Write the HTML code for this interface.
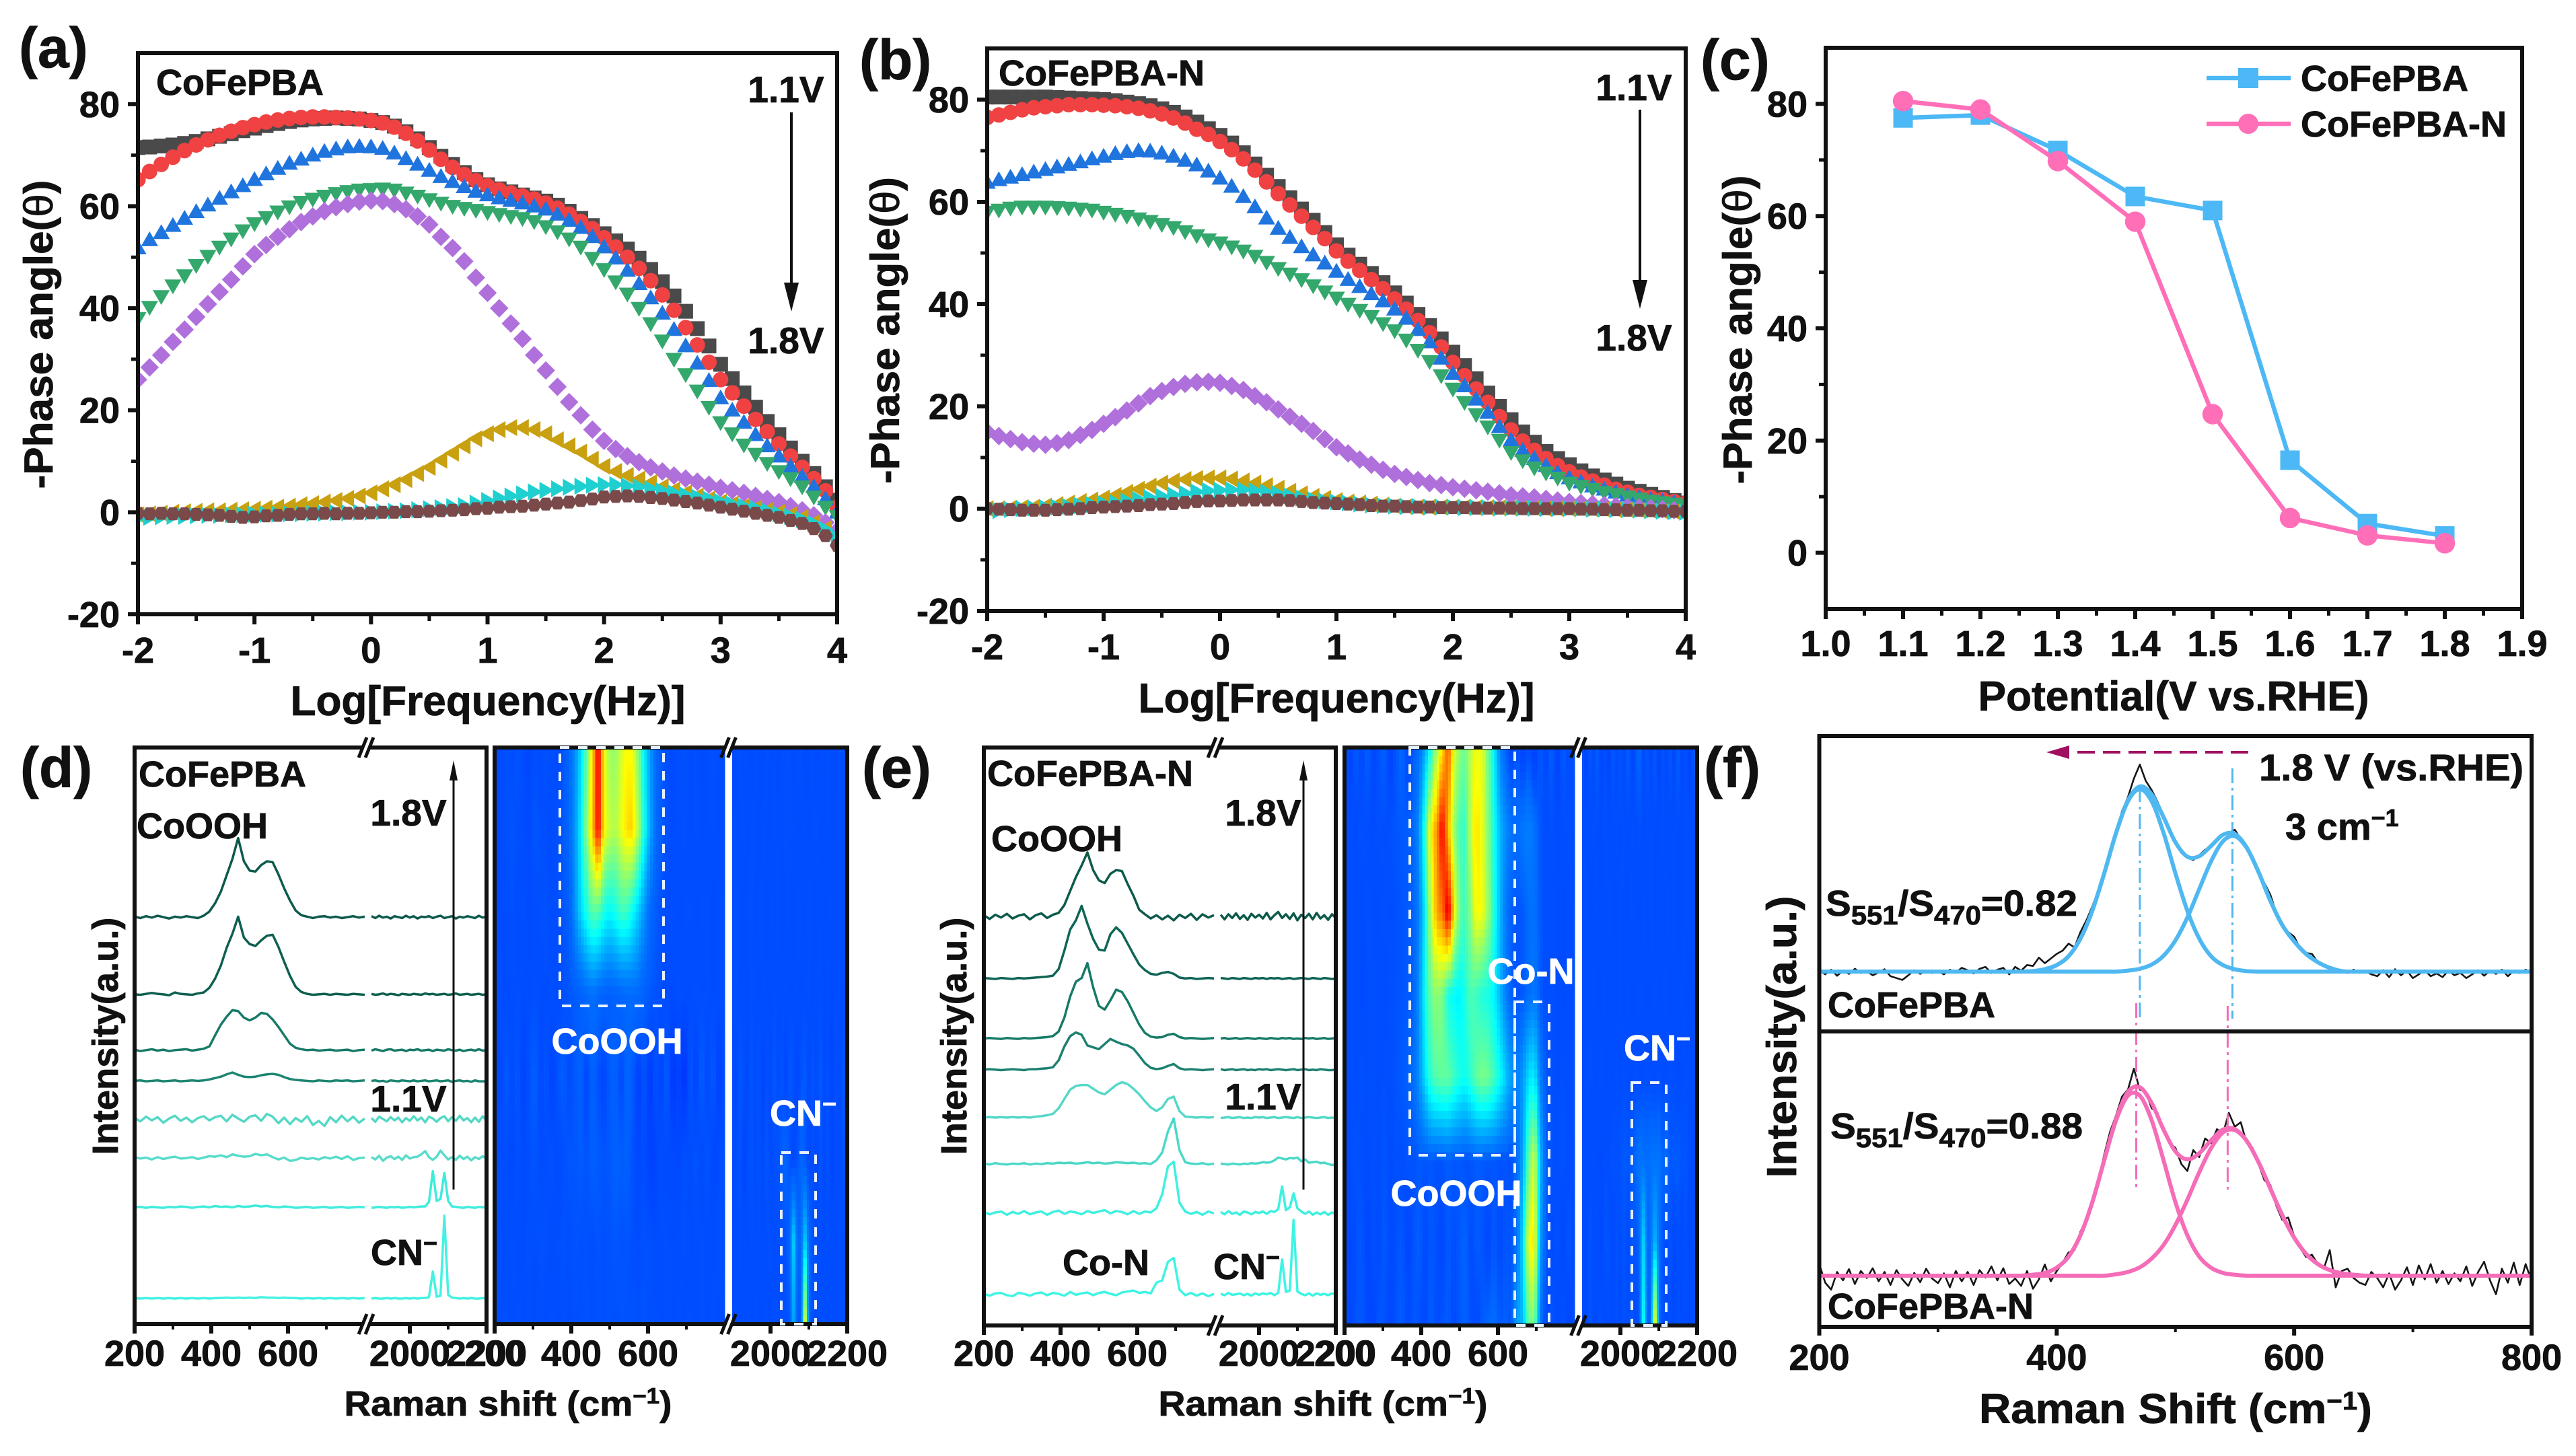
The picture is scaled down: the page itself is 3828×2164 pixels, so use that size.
<!DOCTYPE html>
<html lang="en">
<head>
<meta charset="utf-8">
<title>Phase angle and Raman spectra of CoFePBA and CoFePBA-N</title>
<style>
html,body{margin:0;padding:0;background:#fff;}
svg{display:block;}
text{font-family:"Liberation Sans",sans-serif;font-weight:bold;fill:#111;stroke:#111;stroke-width:0.8px;}
</style>
</head>
<body>
<svg id="figure" xmlns="http://www.w3.org/2000/svg" width="3828" height="2164" viewBox="0 0 3828 2164">
<rect width="3828" height="2164" fill="#fff"/>
<defs>
<clipPath id="clipA"><rect x="205" y="79" width="1039" height="834"/></clipPath>
<clipPath id="clipB"><rect x="1467" y="72" width="1038" height="836"/></clipPath>
<clipPath id="clipHD"><rect x="735" y="1111" width="524" height="857"/></clipPath>
<clipPath id="clipHE"><rect x="1998" y="1111" width="524" height="859"/></clipPath>
<clipPath id="clipFT"><rect x="2703" y="1094" width="1060" height="439"/></clipPath>
<clipPath id="clipFB"><rect x="2703" y="1533" width="1060" height="439"/></clipPath>
</defs>
<g id="layerA"></g>
<g id="layerB"></g>
<g id="layerC"></g>
<g id="layerD"></g>
<g id="layerE"></g>
<g id="layerF"></g>

<!-- panel letters -->
<text x="28" y="100" font-size="84">(a)</text>
<text x="1277" y="118" font-size="84">(b)</text>
<text x="2527" y="118" font-size="84">(c)</text>
<text x="30" y="1170" font-size="84">(d)</text>
<text x="1281" y="1170" font-size="84">(e)</text>
<text x="2532" y="1170" font-size="84">(f)</text>

<!-- panel a text -->
<text x="232" y="141" font-size="54">CoFePBA</text>
<text x="1168" y="152" font-size="55" text-anchor="middle">1.1V</text>
<text x="1168" y="525" font-size="55" text-anchor="middle">1.8V</text>
<line x1="1176" y1="167" x2="1176" y2="430" stroke="#111" stroke-width="4"/>
<polygon points="1165,420 1187,420 1176,463" fill="#111"/>
<text x="725" y="1063" font-size="62" text-anchor="middle" textLength="587" lengthAdjust="spacingAndGlyphs">Log[Frequency(Hz)]</text>
<text transform="translate(78,497) rotate(-90)" font-size="60" text-anchor="middle" textLength="459" lengthAdjust="spacingAndGlyphs">-Phase angle(<tspan font-weight="normal">θ</tspan>)</text>

<!-- panel b text -->
<text x="1484" y="127" font-size="54">CoFePBA-N</text>
<text x="2428" y="149" font-size="55" text-anchor="middle">1.1V</text>
<text x="2428" y="521" font-size="55" text-anchor="middle">1.8V</text>
<line x1="2437" y1="163" x2="2437" y2="425" stroke="#111" stroke-width="4"/>
<polygon points="2426,416 2448,416 2437,459" fill="#111"/>
<text x="1986" y="1059" font-size="62" text-anchor="middle" textLength="589" lengthAdjust="spacingAndGlyphs">Log[Frequency(Hz)]</text>
<text transform="translate(1336,491) rotate(-90)" font-size="60" text-anchor="middle" textLength="456" lengthAdjust="spacingAndGlyphs">-Phase angle(<tspan font-weight="normal">θ</tspan>)</text>

<!-- panel c text -->
<g>
<line x1="3279" y1="116" x2="3404" y2="116" stroke="#4cb8f5" stroke-width="6.5"/>
<rect x="3326" y="101" width="30" height="30" fill="#4cb8f5"/>
<text x="3419" y="135" font-size="54">CoFePBA</text>
</g>
<g>
<line x1="3279" y1="184" x2="3404" y2="184" stroke="#ff6fb8" stroke-width="6.5"/>
<circle cx="3341" cy="184" r="15" fill="#ff6fb8"/>
<text x="3419" y="203" font-size="54">CoFePBA-N</text>
</g>
<text x="3230" y="1056" font-size="62" text-anchor="middle" textLength="581" lengthAdjust="spacingAndGlyphs">Potential(V vs.RHE)</text>
<text transform="translate(2603,490) rotate(-90)" font-size="60" text-anchor="middle" textLength="459" lengthAdjust="spacingAndGlyphs">-Phase angle(<tspan font-weight="normal">θ</tspan>)</text>

<!-- panel d text -->
<text x="206" y="1169" font-size="54">CoFePBA</text>
<text x="203" y="1246" font-size="54">CoOOH</text>
<text x="607" y="1227" font-size="55" text-anchor="middle">1.8V</text>
<text x="607" y="1652" font-size="55" text-anchor="middle">1.1V</text>
<text x="551" y="1880" font-size="54">CN<tspan dy="-20" font-size="36">−</tspan></text>
<line x1="674" y1="1768" x2="674" y2="1150" stroke="#111" stroke-width="3"/>
<polygon points="668,1160 680,1160 674,1130" fill="#111"/>
<text x="917" y="1566" font-size="54" text-anchor="middle" style="fill:#fff;stroke:#fff">CoOOH</text>
<text x="1144" y="1673" font-size="54" style="fill:#fff;stroke:#fff">CN<tspan dy="-20" font-size="36">−</tspan></text>
<text x="755" y="2104" font-size="52" text-anchor="middle" textLength="487" lengthAdjust="spacingAndGlyphs">Raman shift (cm<tspan dy="-18" font-size="33">−1</tspan><tspan dy="18">)</tspan></text>
<text transform="translate(175,1540) rotate(-90)" font-size="54" text-anchor="middle" textLength="353" lengthAdjust="spacingAndGlyphs">Intensity(a.u.)</text>

<!-- panel e text -->
<text x="1467" y="1168" font-size="54">CoFePBA-N</text>
<text x="1473" y="1265" font-size="54">CoOOH</text>
<text x="1877" y="1227" font-size="55" text-anchor="middle">1.8V</text>
<text x="1877" y="1649" font-size="55" text-anchor="middle">1.1V</text>
<text x="1579" y="1895" font-size="54">Co-N</text>
<text x="1803" y="1901" font-size="54">CN<tspan dy="-20" font-size="36">−</tspan></text>
<line x1="1937" y1="1768" x2="1937" y2="1150" stroke="#111" stroke-width="3"/>
<polygon points="1931,1160 1943,1160 1937,1130" fill="#111"/>
<text x="2164" y="1792" font-size="54" text-anchor="middle" style="fill:#fff;stroke:#fff">CoOOH</text>
<text x="2275" y="1462" font-size="54" text-anchor="middle" style="fill:#fff;stroke:#fff">Co-N</text>
<text x="2413" y="1576" font-size="54" style="fill:#fff;stroke:#fff">CN<tspan dy="-20" font-size="36">−</tspan></text>
<text x="1966" y="2104" font-size="52" text-anchor="middle" textLength="489" lengthAdjust="spacingAndGlyphs">Raman shift (cm<tspan dy="-18" font-size="33">−1</tspan><tspan dy="18">)</tspan></text>
<text transform="translate(1436,1540) rotate(-90)" font-size="54" text-anchor="middle" textLength="353" lengthAdjust="spacingAndGlyphs">Intensity(a.u.)</text>

<!-- panel f text -->
<text x="3357" y="1160" font-size="56" textLength="393" lengthAdjust="spacingAndGlyphs">1.8 V (vs.RHE)</text>
<text x="3396" y="1248" font-size="56">3 cm<tspan dy="-20" font-size="36">−1</tspan></text>
<text x="2713" y="1361" font-size="54" textLength="374" lengthAdjust="spacingAndGlyphs">S<tspan dy="13" font-size="40">551</tspan><tspan dy="-13">/S</tspan><tspan dy="13" font-size="40">470</tspan><tspan dy="-13">=0.82</tspan></text>
<text x="2720" y="1692" font-size="54" textLength="375" lengthAdjust="spacingAndGlyphs">S<tspan dy="13" font-size="40">551</tspan><tspan dy="-13">/S</tspan><tspan dy="13" font-size="40">470</tspan><tspan dy="-13">=0.88</tspan></text>
<text x="2716" y="1512" font-size="54">CoFePBA</text>
<text x="2716" y="1960" font-size="54">CoFePBA-N</text>
<text x="3233" y="2115" font-size="62" text-anchor="middle" textLength="584" lengthAdjust="spacingAndGlyphs">Raman Shift (cm<tspan dy="-20" font-size="38">−1</tspan><tspan dy="20">)</tspan></text>
<text transform="translate(2669,1541) rotate(-90)" font-size="62" text-anchor="middle" textLength="419" lengthAdjust="spacingAndGlyphs">Intensity(a.u.)</text>
<line x1="3341" y1="1118" x2="3075" y2="1118" stroke="#a01060" stroke-width="4" stroke-dasharray="26 12"/>
<polygon points="3075,1108 3075,1128 3041,1118" fill="#a01060"/>
</svg>

<script>
// ---------- shared categories ----------
const logFreq = [-2,-1.9,-1.8,-1.7,-1.6,-1.5,-1.4,-1.3,-1.2,-1.1,-1,-0.9,-0.8,-0.7,-0.6,-0.5,-0.4,-0.3,-0.2,-0.1,0,0.1,0.2,0.3,0.4,0.5,0.6,0.7,0.8,0.9,1,1.1,1.2,1.3,1.4,1.5,1.6,1.7,1.8,1.9,2,2.1,2.2,2.3,2.4,2.5,2.6,2.7,2.8,2.9,3,3.1,3.2,3.3,3.4,3.5,3.6,3.7,3.8,3.9,4];
const phaseYTicks = [-20,0,20,40,60,80];
const phaseYMinor = [-10,10,30,50,70];
const logXTicks = [-2,-1,0,1,2,3,4];
const logXMinor = [-1.5,-0.5,0.5,1.5,2.5,3.5];

// ---------- panel (a) phase angle ----------
const phaseA11 = [71.5,71.6,71.8,72,72.3,72.7,73.2,73.7,74.2,74.8,75.3,75.8,76.2,76.6,76.9,77.1,77.2,77.3,77.2,77.1,76.8,76.4,75.7,74.6,73.2,71.5,69.8,68.2,66.6,65.2,64.2,63.4,62.8,62.2,61.6,61,60.2,59,57.6,56.2,54.6,53.2,51.6,49.8,47.6,45.2,42.4,39.4,36,32.6,29,26.2,23.4,20.6,17.8,15.2,12.6,10,7.6,5,2.4];
const phaseA12 = [65.2,66.8,68.2,69.6,70.9,72,73,73.9,74.7,75.4,76,76.5,76.9,77.2,77.4,77.5,77.5,77.4,77.3,77.1,76.8,76.3,75.5,74.3,72.8,71,69.2,67.6,66.2,65,64,63.2,62.6,62,61.4,60.6,59.6,58.4,57,55.6,53.8,52,50,47.8,45.4,42.6,39.6,36.2,32.8,29.4,26,23.4,20.8,18.2,15.8,13.4,11,8.8,6.6,4.2,1];
const phaseA13 = [51.8,53.4,54.8,56.2,57.6,58.9,60.2,61.5,62.8,64,65.2,66.3,67.4,68.4,69.2,70,70.7,71.2,71.6,71.7,71.6,71.3,70.4,69.3,68.2,67,65.8,64.8,63.8,62.9,62.2,61.6,61.1,60.6,60,59.4,58.4,57.2,55.8,54,52,49.8,47.4,44.8,42,39,35.8,32.6,29.2,25.8,22.4,20,17.6,15.2,13,11,9,7,5,2.6,0];
const phaseA14 = [38,40.2,42.3,44.4,46.4,48.4,50.2,52,53.6,55.2,56.6,57.8,58.9,59.9,60.8,61.4,62,62.5,62.9,63.2,63.3,63.4,63.2,62.6,62,61.3,60.6,60,59.6,59.2,58.8,58.4,58,57.6,57,56,55,53.6,52,49.8,47.6,45.2,42.8,40,37,33.6,30,27,23.8,20.6,17.6,15.4,13.2,11.4,9.6,8,6.6,5,3,1,-0.8];
const phaseA15 = [26,28.4,30.8,33.4,35.8,38.3,40.8,43.2,45.6,48.2,50.6,52.4,54,55.5,56.9,58,59,59.8,60.4,60.9,61.1,61,60.4,59.4,58,56.4,54,51.8,49.2,46,43,40,37,34,30.8,27.8,24.6,21.6,19,16.2,14,12.4,11,9.8,8.8,8,7.2,6.6,6,5.4,4.8,4.3,3.8,3.2,2.6,2,1.2,0.4,-0.6,-2,-3.6];
const phaseA16 = [-0.5,-0.3,-0.2,0,0.1,0.2,0.3,0.3,0.4,0.5,0.6,0.8,1,1.2,1.5,1.7,2,2.3,2.7,3.2,3.8,4.6,5.4,6.4,7.6,8.8,10.2,11.6,13,14.4,15.4,16.2,16.6,16.6,16.2,15.4,14.2,13,11.8,10.4,9,8,7.2,6.5,5.8,5,4.4,3.8,3.2,2.6,2,1.6,1.2,0.8,0.4,0,-0.5,-1,-2,-3.2,-5];
const phaseA17 = [-1.2,-1,-0.9,-0.8,-0.8,-0.7,-0.6,-0.6,-0.5,-0.5,-0.4,-0.4,-0.4,-0.3,-0.3,-0.2,-0.2,-0.1,-0.1,0,0,0.1,0.2,0.3,0.5,0.7,0.9,1.1,1.3,1.8,2.3,2.8,3.2,3.6,4,4.3,4.6,4.9,5.1,5.3,5.4,5.4,5.2,5,4.6,4.2,3.8,3.4,3,2.6,2.1,1.6,1.2,0.8,0.3,-0.3,-0.8,-1.4,-2.2,-3.4,-5];
const phaseA18 = [-0.2,-0.3,-0.2,-0.3,-0.3,-0.4,-0.5,-0.6,-0.8,-1,-0.9,-0.7,-0.6,-0.4,-0.3,-0.3,-0.2,-0.3,-0.2,-0.2,-0.1,0,0,0.1,0.1,0.2,0.3,0.4,0.5,0.7,0.8,1,1.1,1.2,1.4,1.6,1.8,2,2.3,2.6,3,3.1,3.2,3.1,2.9,2.7,2.4,2.1,1.8,1.4,1,0.6,0.2,-0.2,-0.6,-1,-1.6,-2.2,-3.2,-4.6,-6.5];

// ---------- panel (b) phase angle ----------
const phaseB11 = [80.5,80.5,80.5,80.5,80.5,80.5,80.4,80.3,80.2,80.1,80,79.8,79.5,79.2,78.8,78.2,77.5,76.6,75.6,74.3,73,71.5,69.6,67.4,65.2,63,60.8,58.6,56.4,54,51.6,49.6,47.8,46,44.2,42.2,40.2,38,35.8,33.2,30.6,28,25.4,22.6,20,17.4,15,13,11.2,9.8,8.6,7.4,6.4,5.6,4.8,4,3.4,2.8,2.2,1.6,1.1];
const phaseB12 = [76.5,77,77.5,78,78.4,78.6,78.8,79,79,79,78.9,78.8,78.6,78.3,77.8,77.2,76.4,75.4,74.2,73.2,71.8,70.2,68.4,66.2,63.9,61.6,59.4,57.2,55,52.8,50.4,48.4,46.6,44.8,43,41,39,36.8,34.4,31.6,28.6,26,23.4,20.8,18,15.4,13.2,11.4,9.8,8.4,7.2,6.2,5.4,4.6,3.8,3.2,2.6,2.2,1.8,1.4,1.1];
const phaseB13 = [63.8,64.3,64.8,65.3,65.8,66.3,66.8,67.3,67.8,68.4,68.9,69.4,69.8,70,69.9,69.5,68.9,68.1,67.2,66,64.6,63,61,59,56.8,54.8,53,51.2,49.6,48,46.4,44.8,43.4,42,40.6,39,37.2,35,32.6,29.4,26.4,24,21.4,18.8,16,13.4,11.4,9.8,8.4,7,6,5.2,4.4,3.8,3.2,2.6,2.2,1.8,1.5,1.2,1];
const phaseB14 = [58,58.4,58.8,59,59,59,58.9,58.8,58.6,58.4,58,57.6,57.2,56.7,56.2,55.6,55,54.2,53.4,52.6,52,51.2,50.4,49.4,48.2,47,45.9,44.8,43.6,42.4,41.2,40,38.8,37.6,36.2,34.8,33,31,28.8,26,23.4,20.8,18.4,16,13.4,11,9.4,8,7,6,5,4.4,3.8,3.2,2.8,2.3,1.9,1.5,1.2,0.9,0.6];
const phaseB15 = [15,14.2,13.6,13,12.7,12.5,12.8,13.4,14.4,15.4,16.6,17.9,19.2,20.6,22,23,23.8,24.4,24.7,24.8,24.6,24,23.2,22,20.8,19.4,18,16.6,15.2,13.6,12,10.8,9.6,8.6,7.6,6.8,6.2,5.6,5,4.6,4.2,3.9,3.6,3.3,3,2.6,2.4,2.2,1.9,1.6,1.3,1.1,0.9,0.7,0.5,0.3,0.2,0.1,-0.1,-0.3,-0.5];
const phaseB16 = [0,0,0.1,0.2,0.3,0.5,0.8,1.1,1.4,1.7,2.1,2.6,3.2,3.8,4.4,5,5.4,5.7,5.9,6,6,5.8,5.4,5,4.5,4,3.4,2.9,2.4,2,1.6,1.3,1.1,0.9,0.7,0.5,0.4,0.3,0.3,0.3,0.3,0.3,0.2,0.2,0.2,0.1,0.1,0.1,0,0,0,0,-0.1,-0.1,-0.2,-0.2,-0.3,-0.4,-0.5,-0.6,-0.7];
const phaseB17 = [-0.6,-0.4,-0.2,0,0.1,0.2,0.3,0.4,0.6,0.8,1,1.2,1.5,1.8,2.1,2.4,2.7,3,3.3,3.5,3.6,3.7,3.7,3.5,3.2,2.9,2.5,2.1,1.8,1.5,1.3,1.1,0.9,0.7,0.6,0.5,0.4,0.4,0.3,0.3,0.3,0.2,0.2,0.2,0.1,0.1,0.1,0.1,0,0,0,0,-0.1,-0.1,-0.2,-0.2,-0.3,-0.4,-0.5,-0.6,-0.7];
const phaseB18 = [0,-0.1,-0.2,-0.3,-0.3,-0.3,-0.2,-0.1,0,0.2,0.3,0.4,0.5,0.6,0.8,0.9,1,1.2,1.4,1.5,1.5,1.6,1.7,1.7,1.7,1.7,1.6,1.4,1.2,1.1,1,0.9,0.8,0.6,0.5,0.5,0.4,0.3,0.3,0.2,0.2,0.2,0.1,0.1,0.1,0.1,0,0,0,0,0,-0.1,-0.1,-0.2,-0.2,-0.3,-0.3,-0.4,-0.4,-0.5,-0.5];

// ---------- panel (c) ----------
const potentials = [1.1,1.2,1.3,1.4,1.5,1.6,1.7,1.8];
const peakPhaseCoFePBA = [77.5,78,71.7,63.5,61,16.5,5.2,3.0];
const peakPhaseCoFePBAN = [80.5,79,69.8,59,24.7,6.2,3.1,1.7];
const potentialTicks = [1.0,1.1,1.2,1.3,1.4,1.5,1.6,1.7,1.8,1.9];
const potentialMinor = [1.05,1.15,1.25,1.35,1.45,1.55,1.65,1.75,1.85];
const peakYTicks = [0,20,40,60,80];
const peakYMinor = [10,30,50,70];

// ---------- panels (d), (e) Raman: low band 200-800 step 15, high band 1900-2200 step 10 ----------
const ramanLow = [200,215,230,245,260,275,290,305,320,335,350,365,380,395,410,425,440,455,470,485,500,515,530,545,560,575,590,605,620,635,650,665,680,695,710,725,740,755,770,785,800];
const ramanHigh = [1900,1910,1920,1930,1940,1950,1960,1970,1980,1990,2000,2010,2020,2030,2040,2050,2060,2070,2080,2090,2100,2110,2120,2130,2140,2150,2160,2170,2180,2190,2200];
const ramanTicks = [200,400,600,2000,2200];
const ramanMinor = [300,500,700,2100];
const stackOffsetD = [875,709,589,523,440,357,251,55];
const stackOffsetE = [879,746,617,550,447,347,242,67];

const d18L=[1,-2,2,-1,3,0,-3,1,-1,2,0,-2,3,12,30,55,90,125,170,120,100,98,112,120,118,92,62,36,14,4,1,-2,1,2,-1,1,-2,0,2,-1,1];
const d17L=[0,-1,1,3,1,0,-2,4,1,0,-1,2,4,14,34,62,100,130,167,122,108,104,116,126,128,102,70,40,16,5,1,-1,0,1,-1,1,0,-1,1,0,-1];
const d16L=[1,-2,0,2,-1,1,-2,0,1,2,-1,1,3,8,32,55,72,86,84,70,64,70,80,78,66,50,32,14,5,2,0,1,-1,0,1,-1,0,1,-2,0,1];
const d15L=[0,1,-1,0,1,-1,0,1,-1,0,1,0,1,3,6,9,14,18,13,9,8,9,12,14,15,13,8,4,2,1,0,-1,1,0,-1,1,0,1,-1,0,1];
const d14L=[3,-4,6,-2,5,-7,2,8,-3,4,-6,3,7,-2,5,8,-4,10,2,-5,6,9,-3,12,6,-8,4,-10,3,-5,7,-12,-3,-14,5,-6,8,-4,6,-7,2];
const d13L=[2,-1,1,-3,2,-2,1,3,-1,0,2,-2,1,4,3,6,2,8,5,3,4,9,6,8,2,-3,1,-6,-4,1,-2,0,-3,2,-1,3,-2,4,-4,0,1];
const d12L=[0,1,-1,1,0,-1,1,0,2,1,-1,1,2,0,3,1,2,0,3,1,2,4,2,3,1,0,2,1,-1,0,1,-1,0,1,-1,0,1,-1,0,1,0];
const d11L=[1,0,1,0,1,0,1,0,1,0,1,0,1,0,1,1,2,1,2,1,2,1,3,2,2,1,2,1,1,0,1,0,1,0,1,0,1,0,1,0,1];
const d18H=[2,-2,3,-1,1,-3,2,0,-2,3,-1,2,-3,1,0,2,-2,1,3,-2,0,2,-3,1,-1,2,0,-2,3,-1,1];
const d17H=[1,-1,0,2,-1,1,0,-2,1,0,-1,1,0,-1,2,0,1,-1,0,1,-1,0,2,-1,0,1,-1,0,1,-1,0];
const d16H=[-1,2,0,-2,1,2,-1,0,1,-2,1,0,2,-1,0,1,-2,1,0,-1,2,0,-1,1,-2,0,1,-1,2,-1,0];
const d15H=[0,1,-1,0,-2,1,0,-1,1,0,-1,1,-1,0,1,-1,0,1,-1,0,1,-2,0,1,-1,0,-2,1,-1,-1,-1];
const d14H=[3,-5,6,1,-4,5,-2,4,-6,3,-3,7,-2,4,-6,6,2,-5,3,7,-4,5,-3,8,-2,3,-6,4,-5,7,-3];
const d13H=[2,-3,5,-6,1,4,-2,3,-4,6,-1,2,3,8,15,2,-4,3,16,6,-3,2,-4,5,-2,3,-5,2,-2,4,-1];
const d12H=[-1,0,1,0,-1,1,0,1,-1,0,1,0,1,2,2,12,78,14,18,74,14,2,1,0,-1,1,0,-1,1,0,1];
const d11H=[0,1,0,0,1,0,1,0,0,1,0,1,0,1,1,3,58,4,6,178,8,2,1,0,1,0,1,0,0,1,0];

const e18L=[3,-5,4,-2,6,-4,2,5,-6,3,7,-3,4,8,25,55,85,110,138,100,78,72,92,100,98,70,45,15,5,-4,3,-6,2,-8,4,-3,6,-7,5,-2,3];
const e17L=[1,0,-1,1,0,-1,1,0,1,2,3,4,6,20,60,105,125,156,118,85,62,60,95,110,98,75,52,30,18,10,8,12,14,10,2,0,1,-1,0,1,0];
const e16L=[0,1,0,-1,1,0,-1,1,0,1,2,3,5,15,45,90,122,130,162,110,70,62,82,105,100,80,55,30,12,4,2,3,8,10,3,0,1,0,-1,0,1];
const e15L=[0,1,0,-1,0,1,0,-1,1,1,2,3,5,20,50,72,80,75,52,48,44,55,66,60,55,52,45,30,14,4,1,3,8,12,3,0,1,0,-1,0,1];
const e14L=[0,1,0,1,0,1,0,1,0,2,3,5,8,20,40,60,68,70,70,62,54,50,60,70,76,72,62,50,35,22,14,22,40,45,14,2,1,0,1,0,1];
const e13L=[1,-1,2,0,-1,1,0,2,-1,1,0,2,1,3,2,3,1,2,4,2,3,1,2,4,3,2,3,1,2,0,8,25,70,98,30,4,1,0,2,-1,1];
const e12L=[2,-3,1,3,-4,2,-2,4,-3,1,3,-4,2,5,-2,3,1,-3,4,0,3,6,-1,4,2,-3,4,-2,3,1,10,40,100,110,22,3,-2,2,-4,3,-1];
const e11L=[1,-3,2,3,-2,-4,3,1,-3,2,4,-2,3,1,-3,5,-1,2,4,-2,3,5,1,-2,4,6,8,3,5,2,25,30,70,78,10,-2,3,-3,2,-4,1];
const e18H=[4,-6,5,-3,7,-5,3,-7,6,-2,4,-4,8,-6,3,10,-3,5,-5,7,-8,4,-3,6,-6,8,-4,3,-7,5,-3];
const e17H=[1,0,-1,1,0,-1,1,0,-1,1,0,1,-1,1,0,1,-1,0,1,-1,0,1,0,-1,1,0,-1,1,0,-1,0];
const e16H=[0,1,-1,0,1,-1,0,1,0,-1,1,0,-1,1,0,-1,1,0,1,-1,0,-1,1,0,1,-1,0,1,-1,0,1];
const e15H=[1,-1,0,1,-1,0,1,-1,0,-1,1,0,1,-1,0,1,0,-1,0,1,-1,0,1,-1,0,-1,1,0,-1,-1,0];
const e14H=[-1,0,1,-1,0,1,-1,0,-1,1,0,1,-1,0,1,-1,0,1,0,-1,1,-1,0,1,0,-1,0,1,-1,0,-1];
const e13H=[1,0,-1,1,0,-1,1,0,2,1,2,4,3,4,8,14,12,10,13,12,14,6,10,3,4,5,2,3,0,-2,-1];
const e12H=[2,-3,4,-2,1,-4,3,1,-3,2,0,3,-2,4,2,8,57,6,12,42,10,3,-2,3,-4,1,-3,2,-4,1,-2];
const e11H=[1,-2,3,-1,0,2,-2,1,-3,2,-1,2,0,3,-2,3,75,5,8,160,6,1,-2,2,-3,2,-1,1,-2,2,0];

// ---------- panel (f) ----------
const fitShift = [200,210,220,230,240,250,260,270,280,290,300,310,320,330,340,350,360,370,380,390,400,410,420,430,440,450,460,470,480,490,500,510,520,530,540,550,560,570,580,590,600,610,620,630,640,650,660,670,680,690,700,710,720,730,740,750,760,770,780,790,800];
const fitTop470 = [0,0,0,0,0,0,0,0,0,0,0,0,0,0,0,0,0,0,1,5,14,33,71,131,211,298,366,392,366,298,211,131,71,33,14,5,1,0,0,0,0,0,0,0,0,0,0,0,0,0,0,0,0,0,0,0,0,0,0,0,0];
const fitTop551 = [0,0,0,0,0,0,0,0,0,0,0,0,0,0,0,0,0,0,0,0,0,0,0,0,0,0,2,6,15,34,67,116,177,237,280,291,266,214,152,100,65,38,20,8,1,0,0,0,0,0,0,0,0,0,0,0,0,0,0,0,0];
const fitBottom470 = [0,0,0,0,0,0,0,0,0,0,0,0,0,0,0,0,0,0,2,6,17,41,87,158,248,334,387,387,334,248,158,87,41,17,6,2,0,0,0,0,0,0,0,0,0,0,0,0,0,0,0,0,0,0,0,0,0,0,0,0,0];
const fitBottom551 = [0,0,0,0,0,0,0,0,0,0,0,0,0,0,0,0,0,0,0,0,0,0,0,0,0,3,8,18,37,66,109,163,222,274,308,313,290,244,187,130,82,47,25,12,5,2,0,0,0,0,0,0,0,0,0,0,0,0,0,0,0];
const rawShift = [200,205,210,215,220,225,230,235,240,245,250,255,260,265,270,275,280,285,290,295,300,305,310,315,320,325,330,335,340,345,350,355,360,365,370,375,380,385,390,395,400,405,410,415,420,425,430,435,440,445,450,455,460,465,470,475,480,485,490,495,500,505,510,515,520,525,530,535,540,545,550,555,560,565,570,575,580,585,590,595,600,605,610,615,620,625,630,635,640,645,650,655,660,665,670,675,680,685,690,695,700,705,710,715,720,725,730,735,740,745,750,755,760,765,770,775,780,785,790,795,800];
const rawTop = [3,-6,4,-9,2,-5,6,-3,1,-8,-2,5,-10,-14,-18,-8,3,-5,2,-3,1,-6,4,-2,8,3,-4,6,10,-3,4,8,-6,10,2,14,12,30,18,28,38,45,60,52,85,110,140,175,215,260,300,345,375,415,445,410,390,365,335,300,280,255,245,240,250,262,268,285,295,298,305,285,265,240,215,190,165,125,100,85,75,50,40,38,20,15,8,5,2,-3,4,-2,1,-6,-10,3,-12,5,-8,2,-14,-6,3,-10,-4,-12,2,-8,-3,-14,-6,3,-9,2,-5,4,-10,2,-3,4,-2];
const rawBottom = [25,-15,-30,8,-10,14,-18,10,-5,16,-12,8,-20,12,-8,-22,6,-14,15,-6,-16,5,-25,10,-12,8,-20,12,-4,20,-10,16,-18,-6,-22,10,-28,-8,24,-12,10,28,50,55,95,120,165,205,260,310,345,385,400,445,400,395,360,350,310,285,275,240,225,270,255,295,285,315,305,350,320,330,285,275,240,205,195,150,120,125,85,60,40,45,25,15,55,-25,10,15,-5,-15,-20,8,-5,-25,5,-30,-10,18,-20,22,-8,25,-15,10,-18,5,-12,20,-22,8,30,-10,-40,15,-15,28,-20,25,-12];
const fitXTicks = [200,400,600,800];
const fitXMinor = [300,500,700];

// ---------- drawing helpers ----------
const NS = 'http://www.w3.org/2000/svg';
function mk(parent, tag, attrs) {
  const el = document.createElementNS(NS, tag);
  for (const k in attrs) el.setAttribute(k, attrs[k]);
  parent.appendChild(el);
  return el;
}
function scale(d0, d1, r0, r1) { return v => r0 + (v - d0) / (d1 - d0) * (r1 - r0); }

function tick(g, x1, y1, x2, y2, w) {
  const t = mk(g, 'line', {x1, y1, x2, y2, stroke: '#111', 'stroke-width': w});
  
  
}
function tickText(g, x, y, str, size, anchor) {
  const t = mk(g, 'text', {x, y, 'font-size': size, 'text-anchor': anchor});
  t.textContent = str;
  
  
}
function frame(g, L, T, R, B) {
  const f = mk(g, 'rect', {x: L, y: T, width: R - L, height: B - T, fill: 'none', stroke: '#111', 'stroke-width': 6});
  
  
}
function xyAxes(g, box, sx, sy, xt, xm, yt, ym, xfmt, baseline) {
  xt.forEach(v => {
    tick(g, sx(v), box.B, sx(v), box.B + 15, 6);
    tickText(g, sx(v), baseline, xfmt(v), 54, 'middle');
  });
  xm.forEach(v => tick(g, sx(v), box.B, sx(v), box.B + 10, 5));
  yt.forEach(v => {
    tick(g, box.L, sy(v), box.L - 15, sy(v), 6);
    tickText(g, box.L - 27, sy(v) + 19, String(v), 54, 'end');
  });
  ym.forEach(v => tick(g, box.L, sy(v), box.L - 10, sy(v), 5));
}
function polyPts(cx, cy, pts, s) { return pts.map(p => (cx + p[0] * s) + ',' + (cy + p[1] * s)).join(' '); }
const hexShape = [[-0.5,-0.87],[0.5,-0.87],[1,0],[0.5,0.87],[-0.5,0.87],[-1,0]];
const shapes = {
  up: [[0,-1.15],[1.15,0.85],[-1.15,0.85]],
  down: [[0,1.15],[1.15,-0.85],[-1.15,-0.85]],
  left: [[-1.15,0],[0.85,-1.15],[0.85,1.15]],
  right: [[1.15,0],[-0.85,-1.15],[-0.85,1.15]],
  diamond: [[0,-1.25],[1.25,0],[0,1.25],[-1.25,0]],
  hex: hexShape
};
function marker(g, kind, cx, cy, s, fill) {
  if (kind === 'square') return mk(g, 'rect', {x: cx - s, y: cy - s, width: 2 * s, height: 2 * s, fill});
  if (kind === 'circle') return mk(g, 'circle', {cx, cy, r: s * 1.05, fill});
  return mk(g, 'polygon', {points: polyPts(cx, cy, shapes[kind], s), fill});
}

const seriesLook = [
  {kind: 'square', fill: '#4a4a4a'}, {kind: 'circle', fill: '#f04242'},
  {kind: 'up', fill: '#1f74de'}, {kind: 'down', fill: '#34a86c'},
  {kind: 'diamond', fill: '#b070dc'}, {kind: 'left', fill: '#c9a00f'},
  {kind: 'right', fill: '#20cfcf'}, {kind: 'hex', fill: '#7a4a4a'}
];

function phasePanel(layer, box, clipId, series) {
  const sx = scale(-2, 4, box.L, box.R);
  const sy = scale(-20, 90, box.B, box.T);
  const plot = mk(layer, 'g', {'clip-path': 'url(#' + clipId + ')'});
  
  
  series.forEach((vals, i) => {
    const sg = mk(plot, 'g', {});
    
    
    vals.forEach((v, j) => {
      const m = marker(sg, seriesLook[i].kind, sx(logFreq[j]), sy(v), 11, seriesLook[i].fill);
      
      
    });
  });
  xyAxes(layer, box, sx, sy, logXTicks, logXMinor, phaseYTicks, phaseYMinor, String, box.B + 72);
  frame(layer, box.L, box.T, box.R, box.B);
}
phasePanel(document.getElementById('layerA'), {L: 205, R: 1244, T: 79, B: 913}, 'clipA',
  [phaseA11, phaseA12, phaseA13, phaseA14, phaseA15, phaseA16, phaseA17, phaseA18]);
phasePanel(document.getElementById('layerB'), {L: 1467, R: 2505, T: 72, B: 908}, 'clipB',
  [phaseB11, phaseB12, phaseB13, phaseB14, phaseB15, phaseB16, phaseB17, phaseB18]);

// panel c
(function () {
  const layer = document.getElementById('layerC');
  const box = {L: 2713, R: 3748, T: 71, B: 905};
  const sx = scale(1.0, 1.9, box.L, box.R);
  const sy = scale(-10, 90, box.B, box.T);
  const lookC = [{kind: 'square', col: '#4cb8f5', vals: peakPhaseCoFePBA}, {kind: 'circle', col: '#ff6fb8', vals: peakPhaseCoFePBAN}];
  lookC.forEach(s => {
    const pl = mk(layer, 'polyline', {points: s.vals.map((v, i) => sx(potentials[i]) + ',' + sy(v)).join(' '), fill: 'none', stroke: s.col, 'stroke-width': 6.5, 'stroke-linejoin': 'round'});
    
    
    s.vals.forEach((v, i) => {
      const m = marker(layer, s.kind, sx(potentials[i]), sy(v), 14.5, s.col);
      
      
    });
  });
  xyAxes(layer, box, sx, sy, potentialTicks, potentialMinor, peakYTicks, peakYMinor, v => v.toFixed(1), 975);
  frame(layer, box.L, box.T, box.R, box.B);
})();

// Raman panels
function jet(t) {
  const c = v => Math.round(255 * Math.max(0, Math.min(1, v)));
  const r = 1.5 - Math.abs(4 * t - 3), g = 1.5 - Math.abs(4 * t - 2), b = 1.5 - Math.abs(4 * t - 1);
  return 'rgb(' + c(r) + ',' + c(g) + ',' + c(b) + ')';
}
function sampleAt(arr, f) {
  const i = Math.min(arr.length - 2, Math.floor(f));
  return arr[i] + (arr[i + 1] - arr[i]) * (f - i);
}
function breakMarks(g, x, y) {
  const w = mk(g, 'rect', {x: x - 5, y: y - 6, width: 10, height: 12, fill: '#fff'});
  
  
  [-5, 5].forEach(d => {
    const l = mk(g, 'line', {x1: x + d - 6, y1: y + 15, x2: x + d + 6, y2: y - 15, stroke: '#111', 'stroke-width': 5});
    
    
  });
}
function ramanAxis(g, L, R, B) {
  const k = 0.57;
  const rx = v => v <= 800 ? L + (v - 200) * k : R - (2200 - v) * k;
  ramanTicks.forEach(v => {
    tick(g, rx(v), B, rx(v), B + 14, 6);
    tickText(g, rx(v), 2030, String(v), 54, 'middle');
  });
  ramanMinor.forEach(v => tick(g, rx(v), B, rx(v), B + 8, 4));
  return rx;
}
function tracePanel(layer, L, R, T, B, low, high, offsets, colors) {
  const rx = ramanAxis(layer, L, R, B);
  const yk = 1 / 1.4465;
  low.forEach((vals, i) => {
    const lp = mk(layer, 'polyline', {points: vals.map((v, j) => rx(ramanLow[j]) + ',' + (B - (offsets[i] + v) * yk)).join(' '), fill: 'none', stroke: colors[i], 'stroke-width': 3.5, 'stroke-linejoin': 'round'});
    
    
    const hp = mk(layer, 'polyline', {points: high[i].map((v, j) => rx(ramanHigh[j]) + ',' + (B - (offsets[i] + v) * yk)).join(' '), fill: 'none', stroke: colors[i], 'stroke-width': 3.5, 'stroke-linejoin': 'round'});
    
    
  });
  frame(layer, L, T, R, B);
  const bx = rx(800) + 2;
  breakMarks(layer, bx, T);
  breakMarks(layer, bx, B);
}
function heatPanel(layer, L, R, T, B, clipId, low, high, maxH, power, boxes) {
  const rx = ramanAxis(layer, L, R, B);
  const g = mk(layer, 'g', {'clip-path': 'url(#' + clipId + ')', 'shape-rendering': 'crispEdges'});
  
  
  const rowsN = low.length - 1, sub = 10, rowH = (B - T) / (rowsN * sub);
  function column(x0, w, rowsData, f, gain) {
    for (let r = 0; r < rowsN * sub; r++) {
      const rf = (r + 0.5) / sub, ri = Math.floor(rf), fr = rf - ri;
      const a = sampleAt(rowsData[ri], f), b = sampleAt(rowsData[ri + 1], f);
      const h = (a + (b - a) * fr) * gain;
      const rel = Math.max(0, h) / maxH;
      const t = Math.max(0.16, Math.min(0.93, 0.2 + Math.pow(rel, power) * 0.7 + 0.002 * Math.min(6, h)));
      const cell = mk(g, 'rect', {x: x0, y: T + r * rowH, width: w + 0.6, height: rowH + 0.6, fill: jet(t)});
      
      
    }
  }
  for (let i = 0; i < (ramanLow.length - 1) * 2; i++) {
    const f = i / 2 + 0.25;
    const v0 = 200 + 15 * (i / 2), w = 15 * 0.5 * 0.57;
    column(rx(v0), w, low, f, 1);
  }
  for (let i = 0; i < (ramanHigh.length - 1) * 2; i++) {
    const f = i / 2 + 0.25;
    const v0 = 1900 + 10 * (i / 2), w = 10 * 0.5 * 0.57;
    column(rx(v0), w, high, f, 0.8);
  }
  frame(layer, L, T, R, B);
  boxes.forEach(b => {
    const d = mk(layer, 'rect', {x: b[0], y: b[1], width: b[2] - b[0], height: b[3] - b[1], fill: 'none', stroke: '#e8f2ff', 'stroke-width': 4, 'stroke-dasharray': '14 13'});
    
    
  });
  const bx = (rx(800) + rx(1900)) / 2;
  breakMarks(layer, bx, T);
  breakMarks(layer, bx, B);
}
const lowD = [d18L, d17L, d16L, d15L, d14L, d13L, d12L, d11L];
const highD = [d18H, d17H, d16H, d15H, d14H, d13H, d12H, d11H];
const lowE = [e18L, e17L, e16L, e15L, e14L, e13L, e12L, e11L];
const highE = [e18H, e17H, e16H, e15H, e14H, e13H, e12H, e11H];
const colorsD = ['#0d5a4c', '#0f5f50', '#177a68', '#1c8572', '#55d8c6', '#58dccb', '#3eecdc', '#44f2e2'];
const colorsE = ['#0d5a4a', '#0f6555', '#167a68', '#1c8070', '#55d8c8', '#4cd8c8', '#3ef0e0', '#3ef4e4'];
tracePanel(document.getElementById('layerD'), 200, 723, 1111, 1968, lowD, highD, stackOffsetD, colorsD);
heatPanel(document.getElementById('layerD'), 735, 1259, 1111, 1968, 'clipHD', lowD, highD, 170, 1.5,
  [[832, 1111, 986, 1495], [1161, 1713, 1212, 1968]]);
tracePanel(document.getElementById('layerE'), 1462, 1985, 1111, 1970, lowE, highE, stackOffsetE, colorsE);
heatPanel(document.getElementById('layerE'), 1998, 2522, 1111, 1970, 'clipHE', lowE, highE, 160, 1.2,
  [[2095, 1111, 2251, 1717], [2251, 1489, 2302, 1970], [2425, 1609, 2476, 1970]]);

// panel f
function smoothPath(xs, ys) {
  let d = 'M' + xs[0] + ' ' + ys[0];
  for (let i = 0; i < xs.length - 1; i++) {
    const x0 = xs[Math.max(0, i - 1)], y0 = ys[Math.max(0, i - 1)];
    const x3 = xs[Math.min(xs.length - 1, i + 2)], y3 = ys[Math.min(xs.length - 1, i + 2)];
    d += ' C' + (xs[i] + (xs[i + 1] - x0) / 6) + ' ' + (ys[i] + (ys[i + 1] - y0) / 6) + ' ' +
      (xs[i + 1] - (x3 - xs[i]) / 6) + ' ' + (ys[i + 1] - (y3 - ys[i]) / 6) + ' ' + xs[i + 1] + ' ' + ys[i + 1];
  }
  return d;
}
(function () {
  const layer = document.getElementById('layerF');
  const L = 2703.5, R = 3762, T = 1094, B = 1972, mid = 1533;
  const sx = scale(200, 800, L, R);
  const yk = 1 / 1.4465;
  function sub(clipId, base, raw, g1, g2, col) {
    const g = mk(layer, 'g', {'clip-path': 'url(#' + clipId + ')'});
    
    
    const rl = mk(g, 'polyline', {points: raw.map((v, i) => sx(rawShift[i]) + ',' + (base - v * yk)).join(' '), fill: 'none', stroke: '#151515', 'stroke-width': 2.6, 'stroke-linejoin': 'round'});
    
    
    const xs = fitShift.map(sx);
    const envelope = g1.map((v, i) => v + g2[i]);
    [g1, g2, envelope].forEach(arr => {
      const p = mk(g, 'path', {d: smoothPath(xs, arr.map(v => base - v * yk)), fill: 'none', stroke: col, 'stroke-width': 6});
      
      
    });
  }
  sub('clipFT', 1444, rawTop, fitTop470, fitTop551, '#4fb8f0');
  sub('clipFB', 1896, rawBottom, fitBottom470, fitBottom551, '#f56cb8');
  const guides = [[470, 1170, 1514, '#4fb8f0'], [548, 1142, 1514, '#4fb8f0'], [467, 1491, 1768, '#f56cb8'], [544, 1495, 1768, '#f56cb8']];
  guides.forEach(gd => {
    const l = mk(layer, 'line', {x1: sx(gd[0]), y1: gd[1], x2: sx(gd[0]), y2: gd[2], stroke: gd[3], 'stroke-width': 3, 'stroke-dasharray': '22 7 4 7'});
    
    
  });
  fitXTicks.forEach(v => {
    tick(layer, sx(v), B, sx(v), B + 13, 6);
    tickText(layer, sx(v), 2036, String(v), 54, 'middle');
  });
  fitXMinor.forEach(v => tick(layer, sx(v), B, sx(v), B + 8, 4));
  const div = mk(layer, 'line', {x1: L, y1: mid, x2: R, y2: mid, stroke: '#111', 'stroke-width': 6});
  
  
  frame(layer, L, T, R, B);
})();
</script>
</body>
</html>
